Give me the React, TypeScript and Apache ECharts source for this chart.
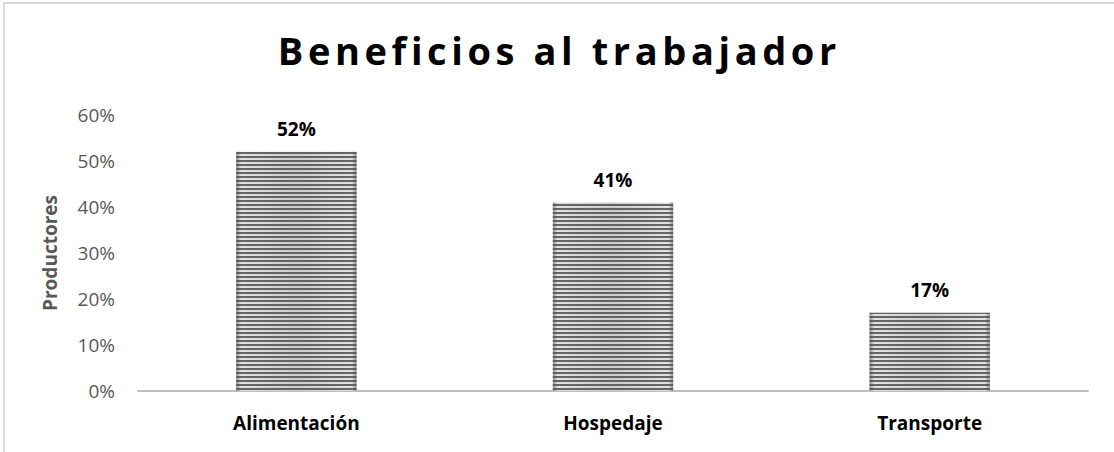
import React, { useEffect, useRef } from 'react';
import * as echarts from 'echarts';

const titleText = 'Beneficios al trabajador';
const categories = ['Alimentación', 'Hospedaje', 'Transporte'];
const values = [52, 41, 17];
const yAxisName = 'Productores';
const yMin = 0;
const yMax = 60;
const yInterval = 10;

const FONT = '"Open Sans", "Noto Sans", sans-serif';
const TITLE_LETTER_SPACING = 4.6;

export default function App() {
  const ref = useRef<HTMLDivElement>(null);
  useEffect(() => {
    if (!ref.current) return;
    const chart = echarts.init(ref.current, null, { renderer: 'svg' });
    chart.setOption({
      animation: false,
      backgroundColor: '#ffffff',
      title: {
        text: titleText,
        left: 'center',
        top: 31,
        padding: 0,
        textStyle: {
          fontFamily: FONT,
          fontWeight: 'bold',
          fontSize: 38,
          color: '#000000',
        },
      },
      graphic: [
        {
          type: 'rect',
          shape: { x: 4, y: 3, width: 1300, height: 700 },
          style: { fill: 'none', stroke: '#d9d9d9', lineWidth: 2 },
          silent: true,
          z: -1,
        },
      ],
      grid: { left: 138, right: 26, top: 115, bottom: 61, containLabel: false },
      xAxis: {
        type: 'category',
        data: categories,
        axisLine: { show: true, lineStyle: { color: '#bfbfbf', width: 2 } },
        axisTick: { show: false },
        axisLabel: {
          margin: 22,
          fontFamily: FONT,
          fontWeight: 'bold',
          fontSize: 19,
          color: '#000000',
        },
      },
      yAxis: {
        type: 'value',
        min: yMin,
        max: yMax,
        interval: yInterval,
        name: yAxisName,
        nameLocation: 'middle',
        nameGap: 79,
        nameTextStyle: {
          fontFamily: FONT,
          fontWeight: 'bold',
          fontSize: 19,
          color: '#595959',
        },
        axisLine: { show: false },
        axisTick: { show: false },
        splitLine: { show: false },
        axisLabel: {
          margin: 23,
          formatter: '{value}%',
          fontFamily: FONT,
          fontSize: 19,
          color: '#595959',
        },
      },
      series: [
        {
          type: 'bar',
          data: values,
          barWidth: '38%',
          itemStyle: {
            color: {
              type: 'linear',
              x: 0, y: 0, x2: 1, y2: 0,
              colorStops: [
                { offset: 0, color: '#8f8f8f' },
                { offset: 0.04, color: '#e2e2e2' },
                { offset: 0.5, color: '#cccccc' },
                { offset: 0.96, color: '#e2e2e2' },
                { offset: 1, color: '#8f8f8f' },
              ],
            },
            decal: {
              symbol: 'rect',
              symbolSize: 1,
              dashArrayX: [[20, 0]],
              dashArrayY: [2, 2],
              rotation: 0,
              color: 'rgba(80,80,80,0.85)',
            },
          },
          label: {
            show: true,
            position: 'top',
            distance: 13,
            formatter: '{c}%',
            fontFamily: FONT,
            fontWeight: 'bold',
            fontSize: 19,
            color: '#000000',
          },
        },
      ],
    });

    // widen the title with letter spacing, keeping it centred
    try {
      const texts = Array.from(ref.current.querySelectorAll('text')) as SVGTextElement[];
      const el = texts.find((t) => t.textContent === titleText);
      if (el) {
        const bb = el.getBBox();
        const cx = bb.x + bb.width / 2 + TITLE_LETTER_SPACING / 2;
        el.setAttribute('text-anchor', 'middle');
        el.setAttribute('x', String(cx));
        el.style.letterSpacing = TITLE_LETTER_SPACING + 'px';
      }
    } catch (e) {
      // ignore
    }

    return () => chart.dispose();
  }, []);
  return (
    <div
      ref={ref}
      style={{ position: 'fixed', left: 0, top: 0, width: 1114, height: 452, background: '#ffffff' }}
    />
  );
}
